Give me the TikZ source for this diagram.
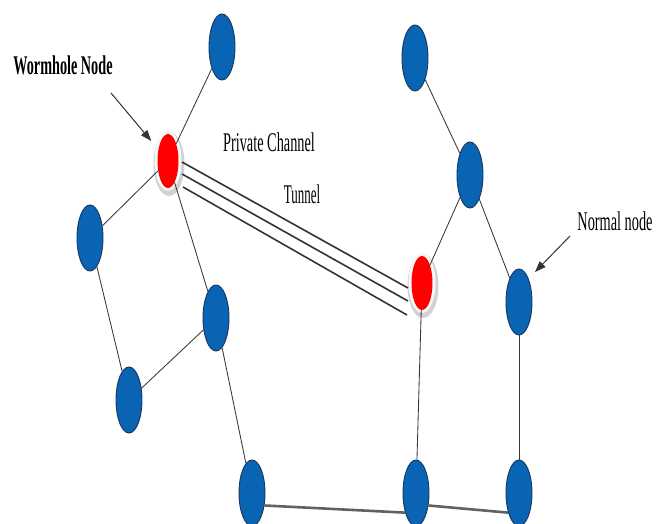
\documentclass[tikz,border=0pt]{standalone}
\usepackage{fontspec}
\usepackage{graphicx}
\setmainfont{Liberation Serif}
\usetikzlibrary{shapes.geometric,arrows.meta,calc}
\definecolor{nodeblue}{RGB}{10,100,180}
\definecolor{nodeedge}{RGB}{25,55,95}
\definecolor{linkgray}{RGB}{55,55,55}
\tikzset{
  normal/.style={ellipse, draw=nodeedge, line width=0.9pt, fill=nodeblue,
    minimum width=26pt, minimum height=66pt, inner sep=0pt},
  worm/.style={ellipse, fill=red, minimum width=21pt, minimum height=54pt, inner sep=0pt},
  haloout/.style={ellipse, fill=gray!35, minimum width=31pt, minimum height=64pt, inner sep=0pt},
  haloin/.style={ellipse, fill=gray!6, minimum width=27pt, minimum height=60pt, inner sep=0pt},
  link/.style={draw=linkgray, line width=0.85pt},
  baselink/.style={draw=black!62, line width=2.6pt},
  tunnel/.style={draw=black!80, line width=1.6pt},
  txt/.style={inner sep=0pt, anchor=base},
  pointer/.style={draw=black!80, line width=1pt, -{Triangle[length=11pt,width=8pt]}},
}
\begin{document}
\begin{tikzpicture}[x=1pt,y=-1pt]
\useasboundingbox (0,0) rectangle (656,524);
\clip (0,0) rectangle (656,524);
\fill[white] (0,0) rectangle (656,524);

% halos around the wormhole nodes
\node[haloout] at (169,164) {};
\node[haloin]  at (168,161) {};
\node[haloout] at (423,286) {};
\node[haloin]  at (422,283) {};

% wormhole nodes
\node[worm] (W1) at (168,161) {};
\node[worm] (W2) at (422,283) {};

% normal nodes
\node[normal] (A) at (222,47) {};
\node[normal] (B) at (90,238) {};
\node[normal] (C) at (216,318) {};
\node[normal] (D) at (129,400) {};
\node[normal] (E) at (252,493) {};
\node[normal] (F) at (415,58) {};
\node[normal] (G) at (470,175) {};
\node[normal] (H) at (519,302) {};
\node[normal] (I) at (416,493) {};
\node[normal] (J) at (519,493) {};

% links
\draw[link] (A) -- (W1);
\draw[link] (W1) -- (B);
\draw[link] (W1) -- (C);
\draw[link] (B) -- (D);
\draw[link] (D) -- (C);
\draw[link] (C) -- (E);
\draw[link] (F) -- (G);
\draw[link] (G) -- (W2);
\draw[link] (G) -- (H);
\draw[link] (W2) -- (I);
\draw[link] (H) -- (J);
\draw[baselink] (E.-45) -- (I.241);
\draw[baselink] (I.-45) -- (J.241);

% private channel tunnel
\draw[tunnel] ($(W1)+(14,1)$) -- ($(W2)+(-14,5)$);
\draw[tunnel] ($(W1)+(14,13)$) -- ($(W2)+(-14,18)$);
\draw[tunnel] ($(W1)+(15,26)$) -- ($(W2)+(-15,32)$);

% labels
\node[txt] (wl) at (63,75) {\fontsize{27}{27}\selectfont\bfseries\scalebox{0.527}[1]{Wormhole Node}};
\node[txt] (pc) at (269,152) {\fontsize{27}{27}\selectfont\scalebox{0.53}[1]{Private Channel}};
\node[txt] (tn) at (302,203) {\fontsize{27}{27}\selectfont\scalebox{0.48}[1]{Tunnel}};
\node[txt] (nl) at (615,230) {\fontsize{27}{27}\selectfont\scalebox{0.53}[1]{Normal node}};

% pointers
\coordinate (wp) at (111,93);
\draw[pointer, shorten >=11pt] (wp) -- (W1);
\coordinate (np) at (570,236);
\coordinate (nt) at (535,272);
\draw[pointer] (np) -- (nt);
\end{tikzpicture}
\end{document}
